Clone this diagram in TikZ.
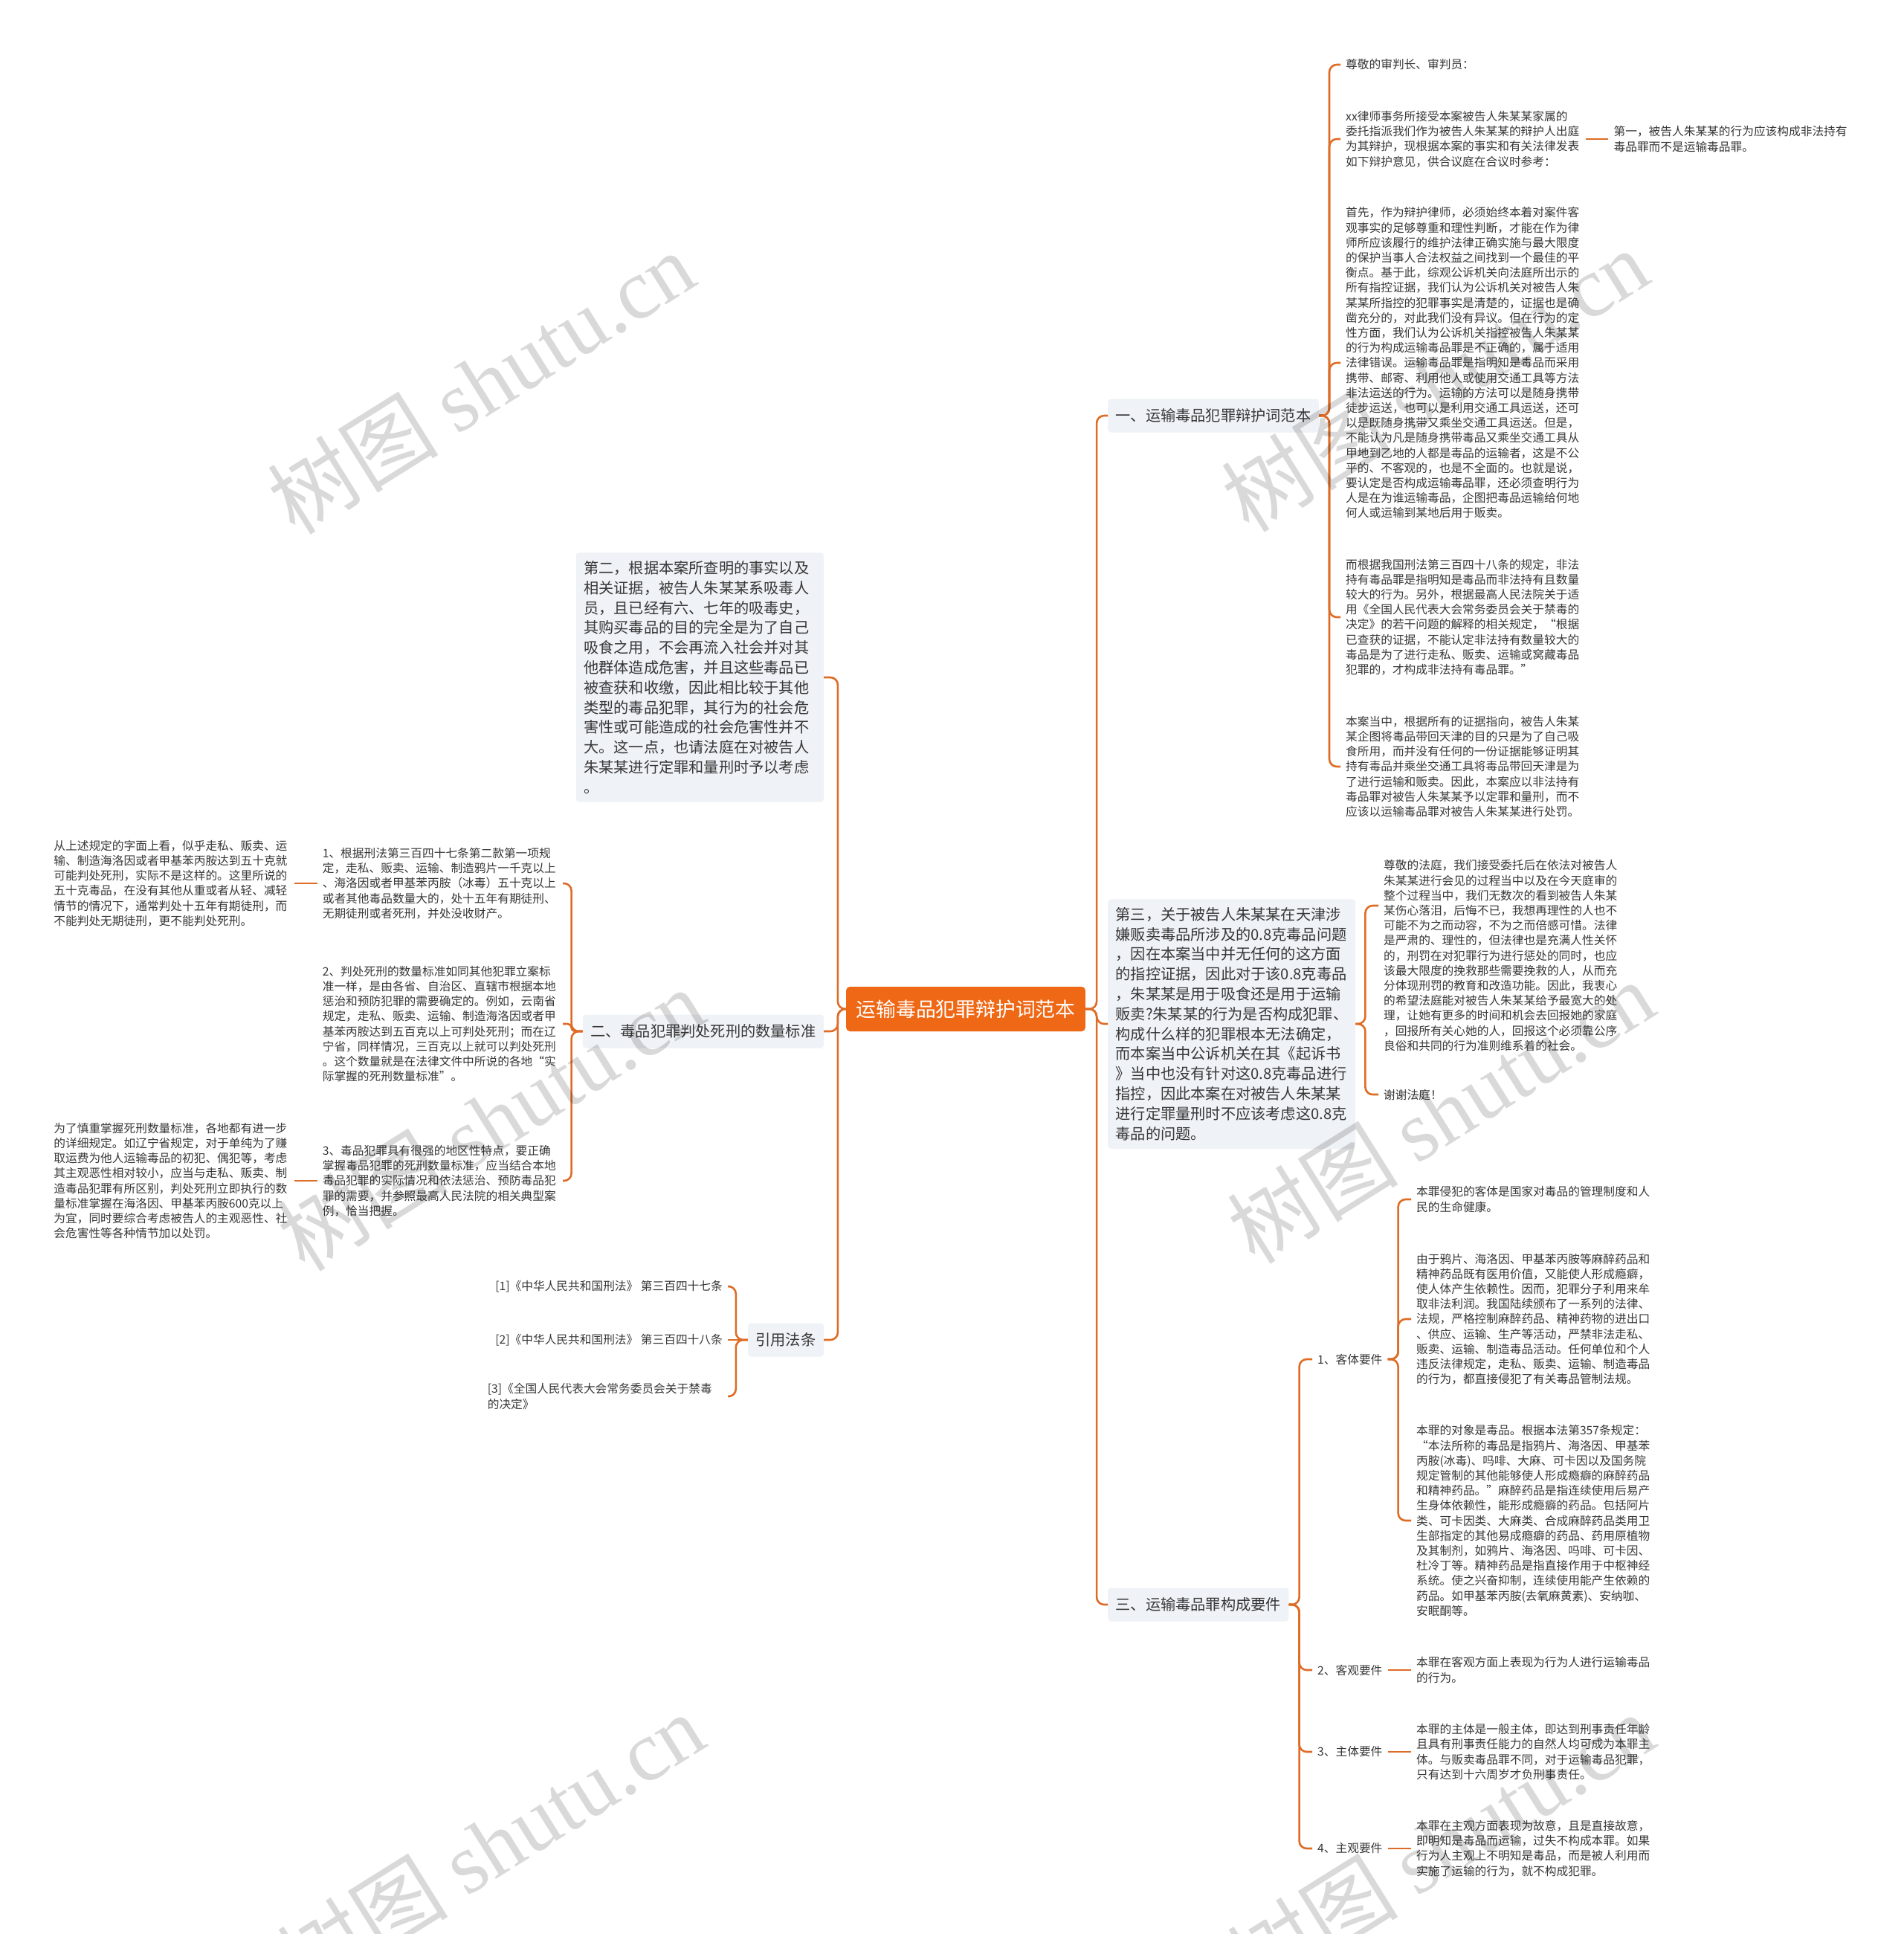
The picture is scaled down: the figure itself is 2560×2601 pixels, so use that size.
\documentclass[tikz,border=0pt]{standalone}
\usepackage{fontspec}
\setmainfont{Noto Sans CJK SC}
\newfontfamily\wmfont{Liberation Serif}
\usetikzlibrary{positioning}
\definecolor{linkc}{RGB}{222,108,38}
\definecolor{rootc}{RGB}{239,104,22}
\definecolor{boxc}{RGB}{239,242,246}
\definecolor{textc}{RGB}{55,55,55}

\begin{document}
\begin{tikzpicture}[
			x=1pt, y=-1pt,
			% Style for the centre topic
			root/.style={
				fill=rootc,
				text=white,
				rounded corners=5pt,
				inner xsep=13.5pt,
				minimum height=60pt,
				font=\fontsize{26.8}{30}\selectfont
			},
			% Style for the main branches
			branch/.style={
				fill=boxc,
				text=textc,
				rounded corners=4pt,
				inner xsep=10.5pt,
				minimum height=45pt,
				font=\fontsize{20.2}{26.8}\selectfont
			},
			% Style for the long boxed points
			point/.style={
				branch,
				align=left,
				text width=312pt,
				inner ysep=11pt
			},
			% Style for the small text (leaves)
			short/.style={
				text=textc,
				align=left,
				inner xsep=7pt,
				inner ysep=3pt,
				font=\fontsize{15.7}{20.2}\selectfont
			},
			leaf/.style={short, text width=316pt},
			% Style for the connectors
			link/.style={
				draw=linkc,
				line width=2.6pt,
				rounded corners=10pt
			},
			% Style for the watermark
			wmark/.style={
				text=black,
				opacity=0.15,
				rotate=32,
				font=\fontsize{115}{115}\selectfont
			}
			]
			
			\path[use as bounding box, fill=white] (0,0) rectangle (2560,2601);
			
			% --- ROOT ---
			\node[root] (Root) at (1299,1357) {运输毒品犯罪辩护词范本};
			
			% --- RIGHT BRANCHES ---
			\node[branch, anchor=west] (Defense) at (1490,559) {一、运输毒品犯罪辩护词范本};
			\node[point, anchor=west] (ThirdPt) at (1490,1377) {第三，关于被告人朱某某在天津涉\\嫌贩卖毒品所涉及的0.8克毒品问题\\，因在本案当中并无任何的这方面\\的指控证据，因此对于该0.8克毒品\\，朱某某是用于吸食还是用于运输\\贩卖?朱某某的行为是否构成犯罪、\\构成什么样的犯罪根本无法确定，\\而本案当中公诉机关在其《起诉书\\》当中也没有针对这0.8克毒品进行\\指控，因此本案在对被告人朱某某\\进行定罪量刑时不应该考虑这0.8克\\毒品的问题。};
			\node[branch, anchor=west] (Elements) at (1490,2158) {三、运输毒品罪构成要件};
			
			% --- LEFT BRANCHES ---
			\node[point, anchor=east] (SecondPt) at (1108,911) {第二，根据本案所查明的事实以及\\相关证据，被告人朱某某系吸毒人\\员，且已经有六、七年的吸毒史，\\其购买毒品的目的完全是为了自己\\吸食之用，不会再流入社会并对其\\他群体造成危害，并且这些毒品已\\被查获和收缴，因此相比较于其他\\类型的毒品犯罪，其行为的社会危\\害性或可能造成的社会危害性并不\\大。这一点，也请法庭在对被告人\\朱某某进行定罪和量刑时予以考虑\\。};
			\node[branch, anchor=east] (DeathStd) at (1108,1387) {二、毒品犯罪判处死刑的数量标准};
			\node[branch, anchor=east] (Laws) at (1108,1802) {引用法条};
			
			% --- DEFENCE SPEECH ---
			\node[short, anchor=west] (Judge) at (1803,87) {尊敬的审判长、审判员：};
			\node[leaf, anchor=west] (Lawyer) at (1803,187) {xx律师事务所接受本案被告人朱某某家属的\\委托指派我们作为被告人朱某某的辩护人出庭\\为其辩护，现根据本案的事实和有关法律发表\\如下辩护意见，供合议庭在合议时参考：};
			\node[leaf, right=30pt of Lawyer] (FirstPt) {第一，被告人朱某某的行为应该构成非法持有\\毒品罪而不是运输毒品罪。};
			\node[leaf, anchor=west] (Firstly) at (1803,488) {首先，作为辩护律师，必须始终本着对案件客\\观事实的足够尊重和理性判断，才能在作为律\\师所应该履行的维护法律正确实施与最大限度\\的保护当事人合法权益之间找到一个最佳的平\\衡点。基于此，综观公诉机关向法庭所出示的\\所有指控证据，我们认为公诉机关对被告人朱\\某某所指控的犯罪事实是清楚的，证据也是确\\凿充分的，对此我们没有异议。但在行为的定\\性方面，我们认为公诉机关指控被告人朱某某\\的行为构成运输毒品罪是不正确的，属于适用\\法律错误。运输毒品罪是指明知是毒品而采用\\携带、邮寄、利用他人或使用交通工具等方法\\非法运送的行为。运输的方法可以是随身携带\\徒步运送，也可以是利用交通工具运送，还可\\以是既随身携带又乘坐交通工具运送。但是，\\不能认为凡是随身携带毒品又乘坐交通工具从\\甲地到乙地的人都是毒品的运输者，这是不公\\平的、不客观的，也是不全面的。也就是说，\\要认定是否构成运输毒品罪，还必须查明行为\\人是在为谁运输毒品，企图把毒品运输给何地\\何人或运输到某地后用于贩卖。};
			\node[leaf, anchor=west] (Art348) at (1803,830) {而根据我国刑法第三百四十八条的规定，非法\\持有毒品罪是指明知是毒品而非法持有且数量\\较大的行为。另外，根据最高人民法院关于适\\用《全国人民代表大会常务委员会关于禁毒的\\决定》的若干问题的解释的相关规定，“根据\\已查获的证据，不能认定非法持有数量较大的\\毒品是为了进行走私、贩卖、运输或窝藏毒品\\犯罪的，才构成非法持有毒品罪。”};
			\node[leaf, anchor=west] (ThisCase) at (1803,1031) {本案当中，根据所有的证据指向，被告人朱某\\某企图将毒品带回天津的目的只是为了自己吸\\食所用，而并没有任何的一份证据能够证明其\\持有毒品并乘坐交通工具将毒品带回天津是为\\了进行运输和贩卖。因此，本案应以非法持有\\毒品罪对被告人朱某某予以定罪和量刑，而不\\应该以运输毒品罪对被告人朱某某进行处罚。};
			
			% --- CLOSING WORDS ---
			\node[leaf, anchor=west] (Court) at (1854,1285) {尊敬的法庭，我们接受委托后在依法对被告人\\朱某某进行会见的过程当中以及在今天庭审的\\整个过程当中，我们无数次的看到被告人朱某\\某伤心落泪，后悔不已，我想再理性的人也不\\可能不为之而动容，不为之而倍感可惜。法律\\是严肃的、理性的，但法律也是充满人性关怀\\的，刑罚在对犯罪行为进行惩处的同时，也应\\该最大限度的挽救那些需要挽救的人，从而充\\分体现刑罚的教育和改造功能。因此，我衷心\\的希望法庭能对被告人朱某某给予最宽大的处\\理，让她有更多的时间和机会去回报她的家庭\\，回报所有关心她的人，回报这个必须靠公序\\良俗和共同的行为准则维系着的社会。};
			\coordinate (CourtIn) at (1854,1218);
			\node[short, anchor=west] (Thanks) at (1854,1472) {谢谢法庭！};
			
			% --- ELEMENTS OF THE CRIME ---
			\node[short, anchor=west] (Obj) at (1765,1828) {1、客体要件};
			\node[short, anchor=west] (Act) at (1765,2246) {2、客观要件};
			\node[short, anchor=west] (Subj) at (1765,2356) {3、主体要件};
			\node[short, anchor=west] (Mind) at (1765,2486) {4、主观要件};
			
			\node[leaf, anchor=west] (ObjA) at (1898,1613) {本罪侵犯的客体是国家对毒品的管理制度和人\\民的生命健康。};
			\node[leaf, anchor=west] (ObjB) at (1898,1774) {由于鸦片、海洛因、甲基苯丙胺等麻醉药品和\\精神药品既有医用价值，又能使人形成瘾癖，\\使人体产生依赖性。因而，犯罪分子利用来牟\\取非法利润。我国陆续颁布了一系列的法律、\\法规，严格控制麻醉药品、精神药物的进出口\\、供应、运输、生产等活动，严禁非法走私、\\贩卖、运输、制造毒品活动。任何单位和个人\\违反法律规定，走私、贩卖、运输、制造毒品\\的行为，都直接侵犯了有关毒品管制法规。};
			\node[leaf, anchor=west] (ObjC) at (1898,2045) {本罪的对象是毒品。根据本法第357条规定：\\“本法所称的毒品是指鸦片、海洛因、甲基苯\\丙胺(冰毒)、吗啡、大麻、可卡因以及国务院\\规定管制的其他能够使人形成瘾癖的麻醉药品\\和精神药品。”麻醉药品是指连续使用后易产\\生身体依赖性，能形成瘾癖的药品。包括阿片\\类、可卡因类、大麻类、合成麻醉药品类用卫\\生部指定的其他易成瘾癖的药品、药用原植物\\及其制剂，如鸦片、海洛因、吗啡、可卡因、\\杜冷丁等。精神药品是指直接作用于中枢神经\\系统。使之兴奋抑制，连续使用能产生依赖的\\药品。如甲基苯丙胺(去氧麻黄素)、安纳咖、\\安眠酮等。};
			\node[leaf, anchor=west] (ActA) at (1898,2246) {本罪在客观方面上表现为行为人进行运输毒品\\的行为。};
			\node[leaf, anchor=west] (SubjA) at (1898,2356) {本罪的主体是一般主体，即达到刑事责任年龄\\且具有刑事责任能力的自然人均可成为本罪主\\体。与贩卖毒品罪不同，对于运输毒品犯罪，\\只有达到十六周岁才负刑事责任。};
			\node[leaf, anchor=west] (MindA) at (1898,2486) {本罪在主观方面表现为故意，且是直接故意，\\即明知是毒品而运输，过失不构成本罪。如果\\行为人主观上不明知是毒品，而是被人利用而\\实施了运输的行为，就不构成犯罪。};
			
			% --- DEATH PENALTY STANDARD ---
			\node[leaf, anchor=east] (Std1) at (757,1188) {1、根据刑法第三百四十七条第二款第一项规\\定，走私、贩卖、运输、制造鸦片一千克以上\\、海洛因或者甲基苯丙胺（冰毒）五十克以上\\或者其他毒品数量大的，处十五年有期徒刑、\\无期徒刑或者死刑，并处没收财产。};
			\node[leaf, left=31pt of Std1] (Std1a) {从上述规定的字面上看，似乎走私、贩卖、运\\输、制造海洛因或者甲基苯丙胺达到五十克就\\可能判处死刑，实际不是这样的。这里所说的\\五十克毒品，在没有其他从重或者从轻、减轻\\情节的情况下，通常判处十五年有期徒刑，而\\不能判处无期徒刑，更不能判处死刑。};
			\node[leaf, anchor=east] (Std2) at (757,1377) {2、判处死刑的数量标准如同其他犯罪立案标\\准一样，是由各省、自治区、直辖市根据本地\\惩治和预防犯罪的需要确定的。例如，云南省\\规定，走私、贩卖、运输、制造海洛因或者甲\\基苯丙胺达到五百克以上可判处死刑；而在辽\\宁省，同样情况，三百克以上就可以判处死刑\\。这个数量就是在法律文件中所说的各地“实\\际掌握的死刑数量标准”。};
			\node[leaf, anchor=east] (Std3) at (757,1588) {3、毒品犯罪具有很强的地区性特点，要正确\\掌握毒品犯罪的死刑数量标准，应当结合本地\\毒品犯罪的实际情况和依法惩治、预防毒品犯\\罪的需要，并参照最高人民法院的相关典型案\\例，恰当把握。};
			\node[leaf, left=31pt of Std3] (Std3a) {为了慎重掌握死刑数量标准，各地都有进一步\\的详细规定。如辽宁省规定，对于单纯为了赚\\取运费为他人运输毒品的初犯、偶犯等，考虑\\其主观恶性相对较小，应当与走私、贩卖、制\\造毒品犯罪有所区别，判处死刑立即执行的数\\量标准掌握在海洛因、甲基苯丙胺600克以上\\为宜，同时要综合考虑被告人的主观恶性、社\\会危害性等各种情节加以处罚。};
			
			% --- CITED ARTICLES ---
			\node[short, anchor=east] (Law1) at (979,1730) {[1]《中华人民共和国刑法》 第三百四十七条};
			\node[short, anchor=east] (Law2) at (979,1802) {[2]《中华人民共和国刑法》 第三百四十八条};
			\node[leaf, anchor=east] (Law3) at (979,1878) {[3]《全国人民代表大会常务委员会关于禁毒\\的决定》};
			
			% --- CONNECTORS ---
			
			% Root to main branches
			\draw[link] (Root.east) -- ++(15,0) |- (Defense.west);
			\draw[link] (Root.east) -- ++(15,0) |- (ThirdPt.west);
			\draw[link] (Root.east) -- ++(15,0) |- (Elements.west);
			\draw[link] (Root.west) -- ++(-11,0) |- (SecondPt.east);
			\draw[link] (Root.west) -- ++(-11,0) |- (DeathStd.east);
			\draw[link] (Root.west) -- ++(-11,0) |- (Laws.east);
			
			% Defence speech
			\draw[link] (Defense.east) -- ++(14,0) |- (Judge.west);
			\draw[link] (Defense.east) -- ++(14,0) |- (Lawyer.west);
			\draw[link] (Defense.east) -- ++(14,0) |- (Firstly.west);
			\draw[link] (Defense.east) -- ++(14,0) |- (Art348.west);
			\draw[link] (Defense.east) -- ++(14,0) |- (ThisCase.west);
			\draw[link] (Lawyer) -- (FirstPt);
			
			% Closing words
			\draw[link] (ThirdPt.east) -- ++(13,0) |- (CourtIn);
			\draw[link] (ThirdPt.east) -- ++(13,0) |- (Thanks.west);
			
			% Elements
			\draw[link] (Elements.east) -- ++(14,0) |- (Obj.west);
			\draw[link] (Elements.east) -- ++(14,0) |- (Act.west);
			\draw[link] (Elements.east) -- ++(14,0) |- (Subj.west);
			\draw[link] (Elements.east) -- ++(14,0) |- (Mind.west);
			\draw[link] (Obj.east) -- ++(14,0) |- (ObjA.west);
			\draw[link] (Obj.east) -- ++(14,0) |- (ObjB.west);
			\draw[link] (Obj.east) -- ++(14,0) |- (ObjC.west);
			\draw[link] (Act) -- (ActA);
			\draw[link] (Subj) -- (SubjA);
			\draw[link] (Mind) -- (MindA);
			
			% Death penalty standard
			\draw[link] (DeathStd.west) -- ++(-15,0) |- (Std1.east);
			\draw[link, rounded corners=5pt] (DeathStd.west) -- ++(-15,0) |- (Std2.east);
			\draw[link] (DeathStd.west) -- ++(-15,0) |- (Std3.east);
			\draw[link] (Std1) -- (Std1a);
			\draw[link] (Std3) -- (Std3a);
			
			% Cited articles
			\draw[link] (Laws.west) -- ++(-16,0) |- (Law1.east);
			\draw[link] (Laws.west) -- (Law2.east);
			\draw[link] (Laws.west) -- ++(-16,0) |- (Law3.east);
			
			% --- WATERMARK ---
			\node[wmark] (Wm1) at (647,514) {树图 {\wmfont shutu.cn}};
			\node[wmark] (Wm2) at (1930,511) {树图 {\wmfont shutu.cn}};
			\node[wmark] (Wm3) at (660,1505) {树图 {\wmfont shutu.cn}};
			\node[wmark] (Wm4) at (1938,1495) {树图 {\wmfont shutu.cn}};
			\node[wmark] (Wm5) at (660,2480) {树图 {\wmfont shutu.cn}};
			\node[wmark] (Wm6) at (1938,2480) {树图 {\wmfont shutu.cn}};
			
		\end{tikzpicture}
\end{document}
